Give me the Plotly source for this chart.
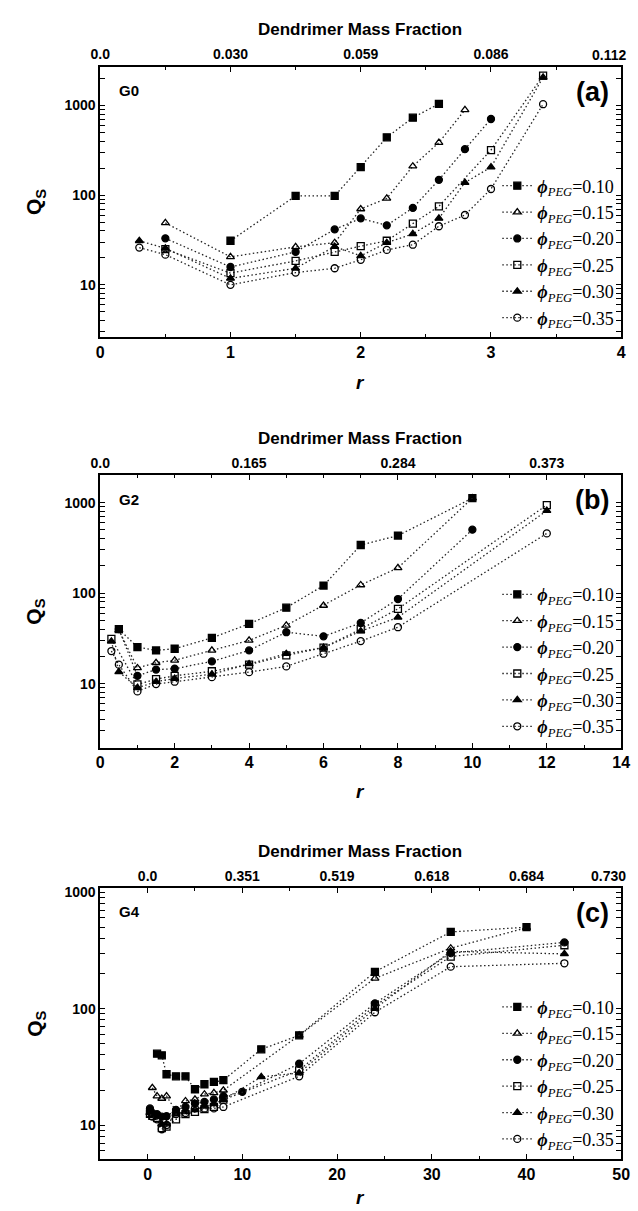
import plotly.graph_objects as go

W, H = 638, 1211

# ---------------- data ----------------
labels = ["0.10", "0.15", "0.20", "0.25", "0.30", "0.35"]
symbols = ["square", "triangle-up-open", "circle", "square-open", "triangle-up", "circle-open"]

# Panel (a)  G0
rA = [
    [1.0, 1.5, 1.8, 2.0, 2.2, 2.4, 2.6],
    [0.5, 1.0, 1.5, 1.8, 2.0, 2.2, 2.4, 2.6, 2.8],
    [0.5, 1.0, 1.5, 1.8, 2.0, 2.2, 2.4, 2.6, 2.8, 3.0],
    [0.5, 1.0, 1.5, 1.8, 2.0, 2.2, 2.4, 2.6, 3.0, 3.4],
    [0.3, 0.5, 1.0, 1.5, 1.8, 2.0, 2.2, 2.4, 2.6, 2.8, 3.0, 3.4],
    [0.3, 0.5, 1.0, 1.5, 1.8, 2.0, 2.2, 2.4, 2.6, 2.8, 3.0, 3.4],
]
qA = [
    [31, 98, 98, 205, 440, 730, 1040],
    [49, 20.5, 26.5, 29.5, 70, 92, 210, 385, 890],
    [33, 15.8, 23.3, 41.5, 55, 46, 72, 148, 325, 705],
    [25, 13.5, 18.5, 23.3, 27, 31, 48, 75, 318, 2150],
    [31, 25.5, 11.8, 15.3, 26.7, 21, 29.5, 37, 55, 138, 205, 2050],
    [26, 21.7, 10, 13.7, 15.3, 19, 24.5, 28, 45, 60, 117, 1030],
]

# Panel (b)  G2
rB = [
    [0.5, 1, 1.5, 2, 3, 4, 5, 6, 7, 8, 10],
    [0.5, 1, 1.5, 2, 3, 4, 5, 6, 7, 8, 10],
    [0.5, 1, 1.5, 2, 3, 4, 5, 6, 7, 8, 10],
    [0.3, 1, 1.5, 2, 3, 4, 5, 6, 7, 8, 12],
    [0.3, 0.5, 1, 1.5, 2, 3, 4, 5, 6, 7, 8, 12],
    [0.3, 0.5, 1, 1.5, 2, 3, 4, 5, 6, 7, 8, 12],
]
qB = [
    [40, 25.3, 23.3, 24.3, 32, 45.8, 69, 121, 340, 432, 1120],
    [39, 14.9, 17, 18.1, 23.3, 30, 44, 73, 123, 190, 1120],
    [40, 12.2, 14.3, 14.6, 17.6, 23.3, 37, 33.3, 46.8, 86, 502],
    [31.3, 9.8, 11.2, 12.2, 13.7, 16.2, 20.5, 25, 40, 67, 940],
    [29.3, 13.5, 9.0, 10.5, 11.4, 12.7, 16.5, 21.4, 25, 38, 54, 815],
    [22.9, 16.2, 8.2, 9.9, 10.5, 11.8, 13.4, 15.5, 21.4, 29.5, 42, 457],
]

# Panel (c)  G4
rC = [
    [1, 1.5, 2, 3, 4, 5, 6, 7, 8, 12, 16, 24, 32, 40],
    [0.5, 1, 1.5, 2, 3, 4, 5, 6, 7, 8, 16, 24, 32, 40],
    [0.25, 0.5, 1, 1.5, 2, 3, 4, 5, 6, 7, 8, 10, 16, 24, 32, 44],
    [0.25, 0.5, 1, 1.5, 2, 3, 4, 5, 6, 7, 8, 16, 24, 32, 44],
    [0.25, 0.5, 1, 1.5, 2, 3, 4, 5, 6, 7, 8, 12, 16, 24, 32, 44],
    [0.25, 0.5, 1, 1.5, 2, 3, 4, 5, 6, 7, 8, 16, 24, 32, 44],
]
qC = [
    [41, 39.7, 27.3, 26.2, 26.2, 20.3, 22.4, 23.5, 24.3, 44.7, 58.9, 207, 455, 500],
    [20.9, 17.7, 16.9, 17.7, 13.2, 16.1, 16.6, 18.4, 18.9, 19.9, 58.9, 182, 330, 495],
    [13.9, 12.7, 12.4, 11.8, 11.9, 13.5, 14.3, 15.3, 15.8, 16.6, 17.7, 19.3, 33.6, 111, 300, 370],
    [12.5, 12.0, 11.5, 9.4, 9.7, 11.2, 12.4, 13.0, 13.7, 14.3, 16.5, 29.5, 106, 280, 350],
    [12.8, 12.2, 11.8, 10.2, 10.2, 12.5, 13.0, 13.5, 14.5, 15.2, 16.5, 25.9, 28, 100, 310, 295],
    [12.4, 11.8, 11.2, 9.2, 10.0, 12.4, 12.7, 13.9, 13.9, 13.9, 14.3, 26.2, 93, 229, 245],
]

# axis ticks / labels
botA = [0, 1, 2, 3, 4]
topA_vals = [0, 1, 2, 3, 4]
topA_text = ["0.0", "0.030", "0.059", "0.086", "0.112"]
botB = [0, 2, 4, 6, 8, 10, 12, 14]
topB_vals = [0, 4, 8, 12]
topB_text = ["0.0", "0.165", "0.284", "0.373"]
botC = [0, 10, 20, 30, 40, 50]
topC_vals = [0, 10, 20, 30, 40, 50]
topC_text = ["0.0", "0.351", "0.519", "0.618", "0.684", "0.730"]
yticks = [10, 100, 1000]
yminor = [m * 10 ** e for e in range(0, 4) for m in range(2, 10)]

panels = [
    dict(r=rA, q=qA, xr=[0, 4], yr=[0.42, 3.43], bot=botA, minor=0.5,
         tv=topA_vals, tt=topA_text, tminor=0.5, top=63, bottom=334, gen="G0", tag="(a)",
         edge=True, rlab=380),
    dict(r=rB, q=qB, xr=[0, 14], yr=[0.294, 3.30], bot=botB, minor=1,
         tv=topB_vals, tt=topB_text, tminor=1, top=473, bottom=746, gen="G2", tag="(b)",
         edge=False, rlab=790),
    dict(r=rC, q=qC, xr=[-5, 50], yr=[0.707, 3.035], bot=botC, minor=5,
         tv=topC_vals, tt=topC_text, tminor=5, top=887, bottom=1159, gen="G4", tag="(c)",
         edge=True, rlab=1197),
]

XL, XR = 93, 630
def px(x):
    return x / W
def py(y):
    return 1 - y / H

SANS = "Liberation Sans"
SERIF = "Liberation Serif"

fig = go.Figure()
layout = dict(width=W, height=H, margin=dict(l=0, r=0, t=0, b=0),
              paper_bgcolor="white", plot_bgcolor="white", showlegend=True)
annotations = []

def note(text, x, y, size, xanchor="center", yanchor="middle", angle=0):
    annotations.append(dict(text=text, xref="paper", yref="paper", x=px(x), y=py(y),
                            xanchor=xanchor, yanchor=yanchor, textangle=angle,
                            showarrow=False, font=dict(family=SANS, size=size, color="black")))

for i, p in enumerate(panels):
    n = i + 1
    xa = "x" if n == 1 else f"x{n}"
    ya = "y" if n == 1 else f"y{n}"
    xt = f"x{n + 3}"
    leg = "legend" if n == 1 else f"legend{n}"
    for k in range(6):
        fig.add_trace(go.Scatter(
            x=p["r"][k], y=p["q"][k], xaxis=xa, yaxis=ya, mode="lines+markers",
            line=dict(color="#222", width=1.3, dash="1.5px,2.5px"),
            marker=dict(symbol=symbols[k], size=7, color="black",
                        line=dict(color="black", width=1.3)),
            name=f"<b><i>ϕ</i></b><sub><i>PEG</i></sub>=" + labels[k],
            legend=leg, showlegend=True))
    # invisible companion trace so the top (mass-fraction) axis is drawn
    fig.add_trace(go.Scatter(
        x=p["r"][0], y=p["q"][0], xaxis=xt, yaxis=ya, mode="markers",
        marker=dict(opacity=0), hoverinfo="skip", showlegend=False))
    dom_y = [py(p["bottom"]), py(p["top"])]
    axkey = "xaxis" if n == 1 else f"xaxis{n}"
    aykey = "yaxis" if n == 1 else f"yaxis{n}"
    tick_common = dict(ticks="inside", ticklen=5, tickwidth=1.2, tickcolor="black",
                       showline=True, linecolor="black", linewidth=1.5,
                       showgrid=False, zeroline=False)
    layout[axkey] = dict(
        domain=[px(XL), px(XR)], anchor=ya, range=p["xr"], tickvals=p["bot"],
        minor=dict(dtick=p["minor"], ticks="inside", ticklen=3, tickcolor="black"),
        tickfont=dict(family=SANS, size=16, color="black", weight="bold"), **tick_common)
    tv = p["tv"][:-1] if p["edge"] else p["tv"]
    tt = p["tt"][:-1] if p["edge"] else p["tt"]
    layout[f"xaxis{n + 3}"] = dict(
        overlaying=xa, anchor=ya, side="top", range=p["xr"], tickvals=tv, ticktext=tt,
        minor=dict(dtick=p["tminor"], ticks="inside", ticklen=3, tickcolor="black"),
        tickfont=dict(family=SANS, size=14, color="black", weight="bold"), **tick_common)
    layout[aykey] = dict(
        domain=dom_y, anchor=xa, type="log", range=p["yr"], tickvals=yticks,
        ticktext=[str(v) for v in yticks], mirror="allticks",
        minor=dict(tickvals=yminor, ticks="inside", ticklen=3, tickcolor="black", showgrid=False),
        tickfont=dict(family=SANS, size=14, color="black", weight="bold"), **tick_common)
    # legend
    layout[leg] = dict(
        x=px(628), xanchor="right", y=py(p["top"] + 101), yanchor="top",
        bgcolor="rgba(0,0,0,0)", borderwidth=0, tracegroupgap=0,
        font=dict(family=SERIF, size=18, color="black"), itemwidth=30)
    # texts
    note("<b>Dendrimer Mass Fraction</b>", 361, p["top"] - 37, 17)
    if p["edge"]:
        note("<b>" + p["tt"][-1] + "</b>", 637, p["top"] - 12, 14, xanchor="right")
    note("<b><i>r</i></b>", 361, p["rlab"], 19)
    note("<b>Q<sub>S</sub></b>", 26, (p["top"] + p["bottom"]) / 2, 21, angle=-90)
    note("<b>" + p["gen"] + "</b>", 110, p["top"] + 24, 15, xanchor="left")
    note("<b>" + p["tag"] + "</b>", 619, p["top"] + 25, 27, xanchor="right")

layout["annotations"] = annotations
fig.update_layout(**layout)
fig.write_html("out.html")
